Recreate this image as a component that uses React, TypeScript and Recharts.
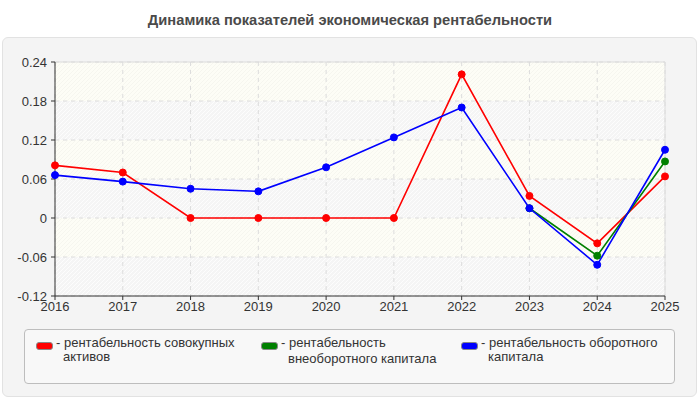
import { LineChart, Line, XAxis, YAxis, CartesianGrid, ReferenceLine } from 'recharts';

const YEARS = ['2016', '2017', '2018', '2019', '2020', '2021', '2022', '2023', '2024', '2025'];
const TOTAL_ASSETS = [0.081, 0.070, 0, 0, 0, 0, 0.221, 0.034, -0.039, 0.064];
const NON_CURRENT = [null, null, null, null, null, null, null, 0.015, -0.058, 0.087];
const CURRENT_CAPITAL = [0.066, 0.056, 0.045, 0.041, 0.078, 0.124, 0.170, 0.015, -0.072, 0.105];
const Y_TICKS = [-0.12, -0.06, 0, 0.06, 0.12, 0.18, 0.24];

const SERIES = [
  { key: 'assets', color: '#ff0000', lines: ['рентабельность совокупных', 'активов'] },
  { key: 'nonCurrent', color: '#008000', lines: ['рентабельность', 'внеоборотного капитала'] },
  { key: 'current', color: '#0000ff', lines: ['рентабельность оборотного', 'капитала'] },
];

const data = YEARS.map((year, i) => ({
  year,
  assets: TOTAL_ASSETS[i],
  nonCurrent: NON_CURRENT[i],
  current: CURRENT_CAPITAL[i],
}));

const FONT = '"Liberation Sans", Arial, sans-serif';

export default function App() {
  return (
    <div style={{ position: 'absolute', left: 0, top: 0, width: 700, height: 400, background: '#fff', fontFamily: FONT }}>
      <div style={{ position: 'absolute', left: 0, top: 12, width: 700, textAlign: 'center', fontSize: 14.7, fontWeight: 'bold', color: '#4a4a4a' }}>
        Динамика показателей экономическая рентабельности
      </div>
      <div style={{ position: 'absolute', left: 2, top: 37, width: 693, height: 358, background: '#f4f4f4', border: '1px solid #e2e2e2', borderRadius: 6 }} />
      <div style={{ position: 'absolute', left: 0, top: 0 }}>
        <LineChart width={700} height={400} data={data} margin={{ top: 62, right: 35, left: 0, bottom: 84 }}>
          <defs>
            <pattern id="hatchCream" patternUnits="userSpaceOnUse" width="4" height="4">
              <rect width="4" height="4" fill="#fdfdf6" />
              <path d="M-1,1 l2,-2 M0,4 l4,-4 M3,5 l2,-2" stroke="#f6f6ef" strokeWidth="1" />
            </pattern>
            <pattern id="hatchGray" patternUnits="userSpaceOnUse" width="4" height="4">
              <rect width="4" height="4" fill="#f5f5f5" />
              <path d="M-1,1 l2,-2 M0,4 l4,-4 M3,5 l2,-2" stroke="#fdfdfd" strokeWidth="1" />
            </pattern>
          </defs>
          <CartesianGrid
            stroke="#dcdcdc"
            strokeDasharray="4 4"
            horizontalFill={['url(#hatchCream)', 'url(#hatchGray)']}
            fillOpacity={1}
          />
          <ReferenceLine y={0.24} stroke="#dcdcdc" />
          <ReferenceLine x="2025" stroke="#dcdcdc" />
          <XAxis
            dataKey="year"
            interval={0}
            height={20}
            tick={{ fill: '#333', fontSize: 13 }}
            tickSize={4}
            axisLine={{ stroke: '#333' }}
            tickLine={{ stroke: '#333' }}
          />
          <YAxis
            type="number"
            domain={[-0.12, 0.24]}
            ticks={Y_TICKS}
            interval={0}
            width={55}
            tickFormatter={(v: number) => (v === 0 ? '0' : String(v))}
            tick={{ fill: '#333', fontSize: 13 }}
            tickSize={4}
            tickMargin={4}
            axisLine={{ stroke: '#333' }}
            tickLine={{ stroke: '#333' }}
          />
          {SERIES.map(s => (
            <Line
              key={s.key}
              type="linear"
              dataKey={s.key}
              stroke={s.color}
              strokeWidth={1.6}
              dot={{ r: 3.5, fill: s.color, stroke: s.color, strokeWidth: 1 }}
              activeDot={false}
              connectNulls={false}
              isAnimationActive={false}
            />
          ))}
        </LineChart>
      </div>
      <div style={{ position: 'absolute', left: 24, top: 329, width: 649, height: 53, background: '#f8f8f8', border: '1px solid #bdbdbd', borderRadius: 4 }}>
        {SERIES.map((s, i) => (
          <div key={s.key} style={{ position: 'absolute', left: [11, 236, 436][i], top: 6, display: 'flex', alignItems: 'flex-start' }}>
            <div style={{ width: 17, height: 8, marginTop: 6, background: s.color, border: '1px solid #888', borderRadius: 3, boxSizing: 'border-box' }} />
            <div style={{ marginLeft: 3, fontSize: 13, color: '#333', lineHeight: '14px' }}>
              <div>- {s.lines[0]}</div>
              <div style={{ paddingLeft: 7, marginTop: i === 1 ? 2 : 0 }}>{s.lines[1]}</div>
            </div>
          </div>
        ))}
      </div>
    </div>
  );
}
